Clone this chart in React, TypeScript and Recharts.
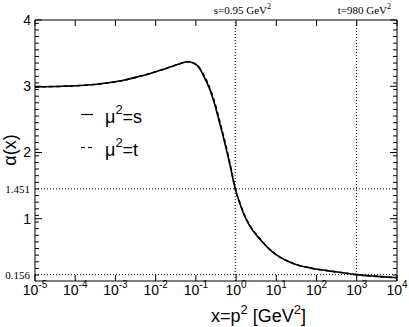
import { LineChart, Line, XAxis, YAxis, ReferenceLine } from "recharts"

// momentum values p^2 [GeV^2]
const xs = [
  1e-5, 5e-5, 3.4e-4, 1.6e-3, 4e-3, 7e-3, 0.013, 0.028, 0.045, 0.059, 0.087,
  0.126, 0.16, 0.19, 0.27, 0.4, 0.52, 0.71, 0.95, 1.26, 1.66, 2.24, 3.9,
  8, 12.3, 20, 32, 80, 200, 500, 980, 3200, 1e4,
]
// alpha(x) with mu^2 = s
const alphaS = [
  2.99, 3.0, 3.03, 3.09, 3.15, 3.19, 3.24, 3.31, 3.35, 3.37, 3.35,
  3.26, 3.14, 3.05, 2.8, 2.42, 2.15, 1.8, 1.451, 1.22, 1.03, 0.88, 0.69,
  0.5, 0.42, 0.355, 0.305, 0.25, 0.213, 0.18, 0.156, 0.13, 0.11,
]
// alpha(x) with mu^2 = t
const alphaT = [
  2.99, 3.0, 3.03, 3.09, 3.15, 3.19, 3.24, 3.31, 3.35, 3.37, 3.35,
  3.27, 3.16, 3.07, 2.83, 2.45, 2.18, 1.82, 1.46, 1.23, 1.04, 0.89, 0.7,
  0.5, 0.42, 0.355, 0.305, 0.25, 0.213, 0.18, 0.156, 0.13, 0.11,
]

const xTicks = [1e-5, 1e-4, 1e-3, 1e-2, 1e-1, 1, 10, 100, 1000, 1e4]
const xTickExp = ["-5", "-4", "-3", "-2", "-1", "0", "1", "2", "3", "4"]
const yMajor = [1, 2, 3, 4]
const yMarked = [0.156, 1.451]
const sVal = 0.95
const tVal = 980

const rows = xs.map((x, i) => ({ x, s: alphaS[i], t: alphaT[i] }))

// minor y ticks, every 0.1
const yMinor: number[] = []
for (let k = 1; k < 40; k++) yMinor.push(Math.round((k * 0.1 + 0.05) * 100) / 100)
const yTicks = [...yMinor, ...yMajor, ...yMarked]

const W = 409
const H = 327
const PL = 35
const PT = 20
const PR = 397
const PB = 281

const sans = "'Liberation Sans', Arial, sans-serif"
const serif = "'Liberation Serif', 'Times New Roman', serif"

function XTick(props: any) {
  const { payload } = props
  const x = payload.coordinate
  const i = xTicks.indexOf(payload.value)
  return (
    <g>
      <line x1={x} x2={x} y1={PB} y2={PB - 6} stroke="#000" />
      <line x1={x} x2={x} y1={PT} y2={PT + 6} stroke="#000" />
      <text x={x} y={295} textAnchor="middle" fontFamily={sans} fill="#000">
        <tspan fontSize={14}>10</tspan>
        <tspan fontSize={10} dy={-7}>{xTickExp[i]}</tspan>
      </text>
    </g>
  )
}

function YTick(props: any) {
  const { payload } = props
  const v = payload.value
  const y = payload.coordinate
  if (yMarked.includes(v)) {
    return (
      <text x={30} y={y + 4} textAnchor="end" fontFamily={serif} fontSize={11} fill="#000">
        {v}
      </text>
    )
  }
  if (yMajor.includes(v)) {
    return (
      <g>
        <line x1={PL} x2={PL + 7} y1={y} y2={y} stroke="#000" />
        <line x1={PR} x2={PR - 7} y1={y} y2={y} stroke="#000" />
        <text x={31} y={y + 5} textAnchor="end" fontFamily={sans} fontSize={14} fill="#000">
          {v}
        </text>
      </g>
    )
  }
  return (
    <g>
      <line x1={PL} x2={PL + 4} y1={y} y2={y} stroke="#000" />
      <line x1={PR} x2={PR - 4} y1={y} y2={y} stroke="#000" />
    </g>
  )
}

export default function App() {
  return (
    <div style={{ position: "absolute", left: 0, top: 0, width: W, height: H, background: "#fff" }}>
      <LineChart
        width={W}
        height={H}
        data={rows}
        margin={{ top: PT, right: W - PR, bottom: 0, left: 0 }}
      >
        <XAxis
          dataKey="x"
          type="number"
          scale="log"
          domain={[1e-5, 1e4]}
          allowDataOverflow
          ticks={xTicks}
          interval={0}
          height={H - PB}
          tickLine={false}
          axisLine={{ stroke: "#000" }}
          tick={XTick}
        />
        <YAxis
          type="number"
          domain={[0.06, 4]}
          allowDataOverflow
          ticks={yTicks}
          interval={0}
          width={PL}
          tickLine={false}
          axisLine={{ stroke: "#000" }}
          tick={YTick}
        />
        <ReferenceLine y={4} stroke="#000" />
        <ReferenceLine x={1e4} stroke="#000" />
        <ReferenceLine x={sVal} stroke="#000" strokeDasharray="1 2" />
        <ReferenceLine x={tVal} stroke="#000" strokeDasharray="1 2" />
        <ReferenceLine y={1.451} stroke="#000" strokeDasharray="1 2" />
        <ReferenceLine y={0.156} stroke="#000" strokeDasharray="1 2" />
        <Line
          type="monotone"
          dataKey="t"
          stroke="#000"
          strokeWidth={1.6}
          strokeDasharray="4 3"
          dot={false}
          isAnimationActive={false}
        />
        <Line
          type="monotone"
          dataKey="s"
          stroke="#000"
          strokeWidth={1.6}
          dot={false}
          isAnimationActive={false}
        />
      </LineChart>
      <svg width={W} height={H} style={{ position: "absolute", left: 0, top: 0, pointerEvents: "none" }}>
        <text x={271} y={14} textAnchor="end" fontFamily={serif} fontSize={11} fill="#000">
          s=0.95 GeV<tspan fontSize={8} dy={-5}>2</tspan>
        </text>
        <text x={391} y={14} textAnchor="end" fontFamily={serif} fontSize={11} fill="#000">
          t=980 GeV<tspan fontSize={8} dy={-5}>2</tspan>
        </text>
        <line x1={81} x2={93} y1={114.5} y2={114.5} stroke="#000" strokeWidth={1.2} />
        <text x={105} y={123} fontFamily={sans} fontSize={18} fill="#000">
          μ<tspan fontSize={13} dy={-9}>2</tspan>
          <tspan dy={9}>=s</tspan>
        </text>
        <line x1={81} x2={85} y1={147.5} y2={147.5} stroke="#000" strokeWidth={1.2} />
        <line x1={88} x2={92} y1={147.5} y2={147.5} stroke="#000" strokeWidth={1.2} />
        <text x={105} y={156} fontFamily={sans} fontSize={18} fill="#000">
          μ<tspan fontSize={13} dy={-9}>2</tspan>
          <tspan dy={9}>=t</tspan>
        </text>
        <text
          transform="translate(16,150) rotate(-90)"
          textAnchor="middle"
          fontFamily={sans}
          fontSize={18}
          fill="#000"
        >
          α(x)
        </text>
        <text x={211} y={322} fontFamily={sans} fontSize={18} fill="#000">
          x=p<tspan fontSize={13} dy={-8}>2</tspan>
          <tspan dy={8}> [GeV</tspan>
          <tspan fontSize={13} dy={-8}>2</tspan>
          <tspan dy={8}>]</tspan>
        </text>
      </svg>
    </div>
  )
}
